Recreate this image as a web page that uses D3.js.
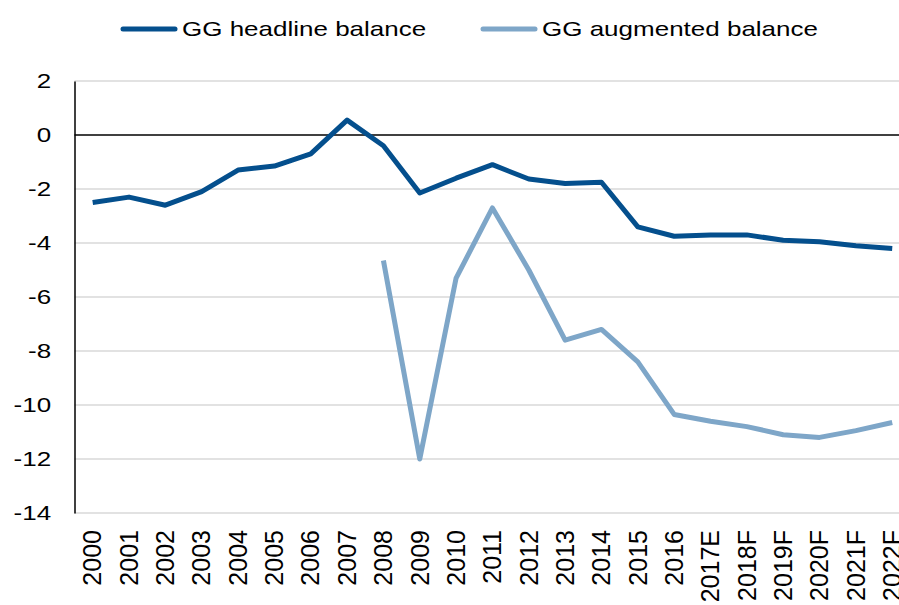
<!DOCTYPE html>
<html>
<head>
<meta charset="utf-8">
<script src="https://cdn.jsdelivr.net/npm/d3@7"></script>
<style>
  body { margin: 0; background: #fff; }
  text { font-family: "Liberation Sans", Arial, sans-serif; fill: #000; }
</style>
</head>
<body>
<div id="chart"></div>
<script>
const years = ["2000", "2001", "2002", "2003", "2004", "2005", "2006", "2007", "2008", "2009", "2010", "2011",
  "2012", "2013", "2014", "2015", "2016", "2017E", "2018F", "2019F", "2020F", "2021F", "2022F"];
const headline = [-2.5, -2.3, -2.6, -2.1, -1.3, -1.15, -0.7, 0.55, -0.4, -2.15, -1.6, -1.1,
  -1.63, -1.8, -1.75, -3.4, -3.75, -3.7, -3.7, -3.9, -3.95, -4.1, -4.2];
const augmented = [null, null, null, null, null, null, null, null, -4.65, -12.0, -5.3, -2.7,
  -5.0, -7.6, -7.2, -8.4, -10.35, -10.6, -10.8, -11.1, -11.2, -10.95, -10.65];
const yTicks = [2, 0, -2, -4, -6, -8, -10, -12, -14];
const seriesNames = ["GG headline balance", "GG augmented balance"];
const colors = ["#044f8d", "#7ea6c8"];

const width = 899, height = 605;
const marginLeft = 74.5, plotRight = 910.4, plotTop = 81, plotBottom = 513;

const svg = d3.select("#chart").append("svg")
  .attr("width", width)
  .attr("height", height);

const x = d3.scaleBand().domain(years).range([marginLeft, plotRight]).padding(0);
const y = d3.scaleLinear().domain([-14, 2]).range([plotBottom, plotTop]);

// gridlines
svg.append("g")
  .selectAll("line")
  .data(yTicks.filter(d => d !== 0))
  .join("line")
  .attr("x1", marginLeft).attr("x2", width)
  .attr("y1", d => y(d)).attr("y2", d => y(d))
  .attr("stroke", "#d9d9d9")
  .attr("stroke-width", 1.5);

// y axis (plain hyphen for minus, like the original)
svg.append("g")
  .attr("transform", `translate(${marginLeft},0)`)
  .call(d3.axisLeft(y).tickValues(yTicks).tickFormat(d => String(d)).tickSize(0).tickPadding(18))
  .call(g => g.select(".domain").attr("stroke", "#000").attr("stroke-width", 1.5))
  .call(g => g.selectAll(".tick text")
    .attr("font-size", 20)
    .attr("transform", "scale(1.3,1)")
    .attr("fill", "#000"));

// zero line
svg.append("line")
  .attr("x1", marginLeft).attr("x2", width)
  .attr("y1", y(0)).attr("y2", y(0))
  .attr("stroke", "#000")
  .attr("stroke-width", 1.5);

// x axis
svg.append("g")
  .attr("transform", `translate(0,${plotBottom})`)
  .call(d3.axisBottom(x).tickSize(0))
  .call(g => g.select(".domain").remove())
  .call(g => g.selectAll(".tick text")
    .attr("font-size", 25)
    .attr("transform", "rotate(-90)")
    .attr("text-anchor", "end")
    .attr("x", -17)
    .attr("y", 0)
    .attr("dy", "0.35em")
    .attr("fill", "#000"));

const line = d3.line()
  .defined(d => d[1] !== null)
  .x(d => x(d[0]) + x.bandwidth() / 2)
  .y(d => y(d[1]));

[headline, augmented].forEach((vals, i) => {
  svg.append("path")
    .attr("d", line(years.map((yr, j) => [yr, vals[j]])))
    .attr("fill", "none")
    .attr("stroke", colors[i])
    .attr("stroke-width", 5)
    .attr("stroke-linejoin", "round");
});

// legend
const legendX = [123, 483];
const legend = svg.append("g");
seriesNames.forEach((name, i) => {
  legend.append("line")
    .attr("x1", legendX[i]).attr("x2", legendX[i] + 52)
    .attr("y1", 29).attr("y2", 29)
    .attr("stroke", colors[i])
    .attr("stroke-width", 5)
    .attr("stroke-linecap", "round");
  legend.append("text")
    .attr("transform", `translate(${legendX[i] + 59},29) scale(1.3,1)`)
    .attr("dy", "0.35em")
    .attr("font-size", 20)
    .text(name);
});
</script>
</body>
</html>
